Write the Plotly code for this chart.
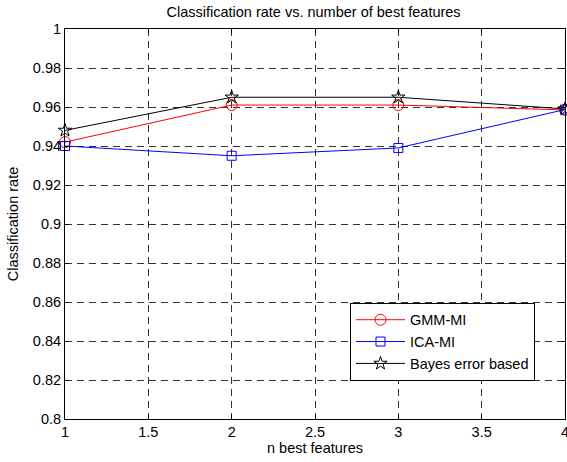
import plotly.graph_objects as go

n_features = [1, 2, 3, 4]
gmm_mi = [0.942, 0.961, 0.961, 0.9585]
ica_mi = [0.940, 0.935, 0.939, 0.9587]
bayes = [0.948, 0.965, 0.965, 0.959]

x_ticks = [1, 1.5, 2, 2.5, 3, 3.5, 4]
x_ticklabels = ["1", "1.5", "2", "2.5", "3", "3.5", "4"]
y_ticks = [0.8, 0.82, 0.84, 0.86, 0.88, 0.9, 0.92, 0.94, 0.96, 0.98, 1]
y_ticklabels = ["0.8", "0.82", "0.84", "0.86", "0.88", "0.9", "0.92", "0.94", "0.96", "0.98", "1"]

FONT = "Liberation Sans, Arial, sans-serif"
FS = 14.5

fig = go.Figure()
fig.add_trace(go.Scatter(x=n_features, y=gmm_mi, name="GMM-MI", mode="lines+markers",
                         line=dict(color="red", width=1), cliponaxis=False,
                         marker=dict(symbol="circle-open", size=11, color="red", line=dict(width=1))))
fig.add_trace(go.Scatter(x=n_features, y=ica_mi, name="ICA-MI", mode="lines+markers",
                         line=dict(color="blue", width=1), cliponaxis=False,
                         marker=dict(symbol="square-open", size=9, color="blue", line=dict(width=1))))
fig.add_trace(go.Scatter(x=n_features, y=bayes, name="Bayes error based", mode="lines+markers",
                         line=dict(color="black", width=1), cliponaxis=False,
                         marker=dict(symbol="star-open", size=10, color="black", line=dict(width=1))))

axis_common = dict(showline=True, linecolor="black", linewidth=1, mirror="ticks",
                   ticks="inside", ticklen=4, tickcolor="black", automargin=False,
                   ticklabeloverflow="allow",
                   showgrid=True, gridcolor="#333333", griddash="7px,5px", gridwidth=1,
                   zeroline=False, tickfont=dict(family=FONT, size=FS, color="black"))

fig.update_xaxes(range=[1, 4], tickvals=x_ticks, ticktext=x_ticklabels,
                 title=dict(text="n best features", font=dict(family=FONT, size=FS, color="black"), standoff=2),
                 **axis_common)
fig.update_yaxes(range=[0.8, 1], tickvals=y_ticks, ticktext=y_ticklabels,
                 title=dict(text="Classification rate", font=dict(family=FONT, size=FS, color="black"), standoff=10),
                 **axis_common)

fig.update_layout(
    width=567, height=462,
    margin=dict(l=65, r=2, t=29, b=43),
    paper_bgcolor="white", plot_bgcolor="white",
    title=dict(text="Classification rate vs. number of best features", x=0.553, xanchor="center",
               y=1 - 12 / 462, yanchor="middle", font=dict(family=FONT, size=FS, color="black")),
    legend=dict(x=0.57, y=0.298, xanchor="left", yanchor="top", bgcolor="white",
                bordercolor="black", borderwidth=1, font=dict(family=FONT, size=FS, color="black"),
                itemwidth=49, tracegroupgap=0),
    showlegend=True,
)

fig.write_html("out.html", config={"displayModeBar": False},
               post_script="document.body.style.margin='0';")
